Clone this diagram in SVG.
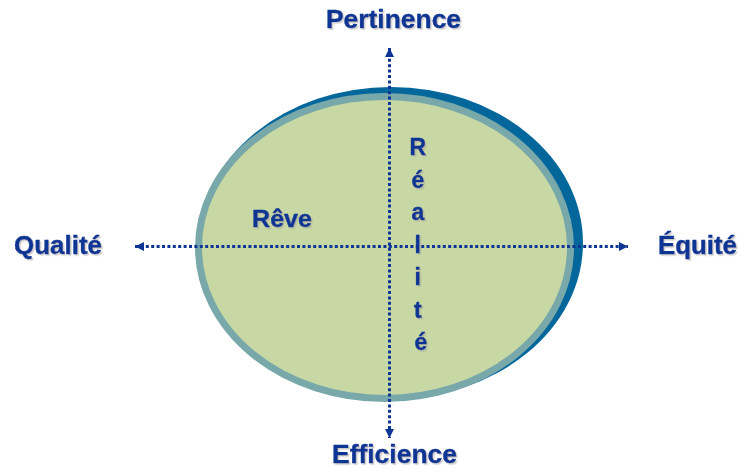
<svg xmlns="http://www.w3.org/2000/svg" width="744" height="472" viewBox="0 0 744 472">
  <defs>
    <filter id="soft" x="-10%" y="-20%" width="130%" height="150%">
      <feDropShadow dx="1.5" dy="1.5" stdDeviation="0.5" flood-color="#a0a0a0" flood-opacity="0.55"/>
    </filter>
    <marker id="tip" viewBox="0 0 9 9" refX="9" refY="4.5" markerWidth="9" markerHeight="9" markerUnits="userSpaceOnUse" orient="auto-start-reverse">
      <path d="M0,0 L9,4.5 L0,9 z" fill="#0c3594"/>
    </marker>
  </defs>
  <style>
    .lbl { font-family: "Liberation Sans", Arial, sans-serif; font-weight: bold; fill: #0c3594; stroke: #0c3594; stroke-width: 0.4; filter: url(#soft); }
    .axis { stroke: #0c3594; stroke-width: 3; stroke-dasharray: 3 2.4; fill: none; }
  </style>
  <rect width="744" height="472" fill="#ffffff"/>

  <!-- the oval: dark rim behind, green body in front -->
  <g id="oval">
    <ellipse cx="391" cy="243" rx="192" ry="156" fill="#03679b"/>
    <ellipse cx="384.5" cy="247.5" rx="186" ry="151" fill="#c8d8a4" stroke="#78a8aa" stroke-width="7"/>
  </g>

  <!-- axes -->
  <g id="connectors">
    <line class="axis" x1="389.5" y1="48" x2="389.5" y2="438" marker-start="url(#tip)" marker-end="url(#tip)"/>
    <line class="axis" x1="135" y1="246.5" x2="628" y2="246.5" marker-start="url(#tip)" marker-end="url(#tip)"/>
  </g>

  <g id="pertinence">
    <text class="lbl" x="326" y="28" font-size="26" textLength="135" lengthAdjust="spacingAndGlyphs">Pertinence</text>
  </g>
  <g id="efficience">
    <text class="lbl" x="332" y="463" font-size="26" textLength="125" lengthAdjust="spacingAndGlyphs">Efficience</text>
  </g>
  <g id="qualite">
    <text class="lbl" x="14" y="254" font-size="26" textLength="88" lengthAdjust="spacingAndGlyphs">Qualité</text>
  </g>
  <g id="equite">
    <text class="lbl" x="658" y="254" font-size="26" textLength="79" lengthAdjust="spacingAndGlyphs">Équité</text>
  </g>
  <g id="reve">
    <text class="lbl" x="252" y="227" font-size="23" textLength="60" lengthAdjust="spacingAndGlyphs">Rêve</text>
  </g>
  <g id="realite">
    <text class="lbl" font-size="23" text-anchor="middle">
      <tspan x="421" y="155">R</tspan>
      <tspan x="421" y="187.5">é</tspan>
      <tspan x="421" y="220">a</tspan>
      <tspan x="421" y="252.5">l</tspan>
      <tspan x="421" y="285">i</tspan>
      <tspan x="421" y="317.5">t</tspan>
      <tspan x="421" y="350">é</tspan>
    </text>
  </g>
</svg>
